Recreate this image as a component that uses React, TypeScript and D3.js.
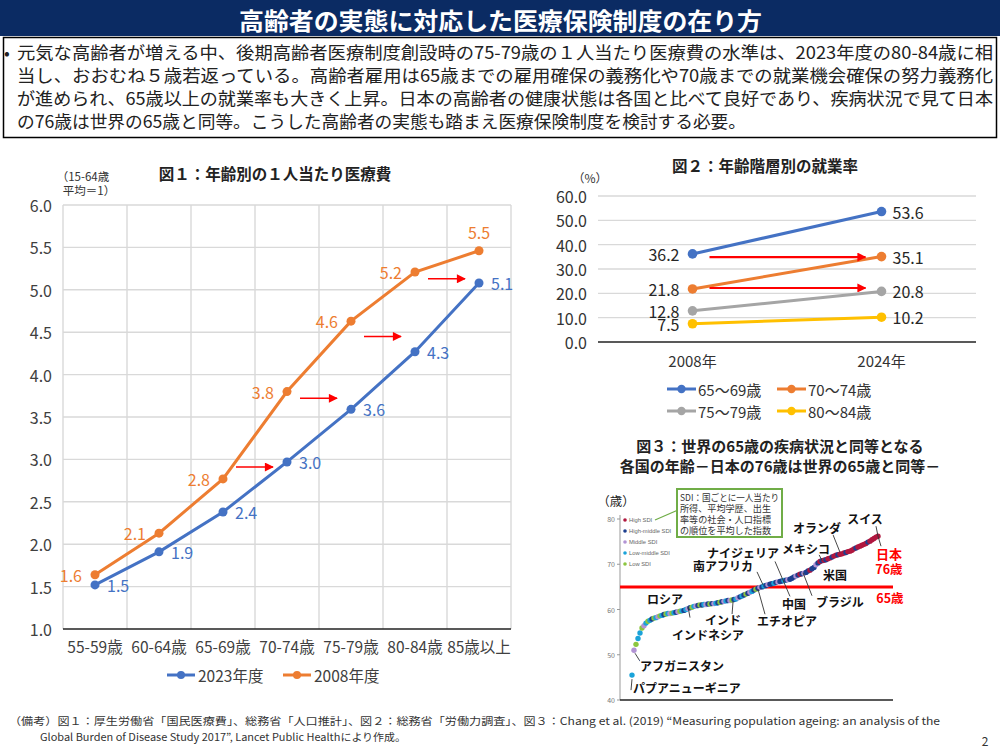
import React from 'react';
import * as d3 from 'd3';

const JP = '"Noto Sans CJK JP", "Noto Sans", sans-serif';
const BLUE = '#4472c4';
const ORANGE = '#ed7d31';
const GRAY = '#a5a5a5';
const YELLOW = '#ffc000';
const RED = '#ff0000';

// ---- page text ----
const pageTitle = '高齢者の実態に対応した医療保険制度の在り方';
const summaryLines = [
  '元気な高齢者が増える中、後期高齢者医療制度創設時の75-79歳の１人当たり医療費の水準は、2023年度の80-84歳に相',
  '当し、おおむね５歳若返っている。高齢者雇用は65歳までの雇用確保の義務化や70歳までの就業機会確保の努力義務化',
  'が進められ、65歳以上の就業率も大きく上昇。日本の高齢者の健康状態は各国と比べて良好であり、疾病状況で見て日本',
  'の76歳は世界の65歳と同等。こうした高齢者の実態も踏まえ医療保険制度を検討する必要。',
];
const noteLines = [
  '（備考）図１：厚生労働省「国民医療費」、総務省「人口推計」、図２：総務省「労働力調査」、図３：Chang et al. (2019) “Measuring population ageing: an analysis of the',
  'Global Burden of Disease Study 2017”, Lancet Public Healthにより作成。',
];

// ---- 図1 ----
const ageGroups = ['55-59歳', '60-64歳', '65-69歳', '70-74歳', '75-79歳', '80-84歳', '85歳以上'];
const cost2023 = [1.52, 1.91, 2.38, 2.97, 3.59, 4.27, 5.08];
const cost2008 = [1.64, 2.13, 2.77, 3.8, 4.63, 5.21, 5.46];
const costTicks = [1.0, 1.5, 2.0, 2.5, 3.0, 3.5, 4.0, 4.5, 5.0, 5.5, 6.0];
const costShiftFrom = [2, 3, 4, 5];
const costShiftLevel = [2.91, 3.72, 4.45, 5.13];

// ---- 図2 ----
const years = ['2008年', '2024年'];
const empGroups = ['65～69歳', '70～74歳', '75～79歳', '80～84歳'];
const emp6569 = [36.2, 53.6];
const emp7074 = [21.8, 35.1];
const emp7579 = [12.8, 20.8];
const emp8084 = [7.5, 10.2];
const empTicks = [0, 10, 20, 30, 40, 50, 60];
const empShiftLevel = [34.9, 22.2];

// ---- 図3 ----
const worldAges = [
  45.5, 51.0, 52.3, 53.6, 54.8, 55.9, 56.4, 57.0, 57.4, 57.6,
  57.9, 58.1, 58.2, 58.4, 58.6, 58.7, 58.9, 59.0, 59.1, 59.1,
  59.2, 59.3, 59.4, 59.5, 59.6, 59.7, 59.8, 60.0, 60.2, 60.4,
  60.5, 60.7, 60.8, 60.9, 61.0, 61.0, 61.1, 61.1, 61.2, 61.2,
  61.3, 61.3, 61.4, 61.5, 61.6, 61.7, 61.8, 61.9, 62.0, 62.0,
  62.1, 62.2, 62.3, 62.6, 62.8, 63.0, 63.2, 63.4, 63.6, 63.8,
  64.0, 64.3, 64.5, 64.7, 64.9, 65.0, 65.2, 65.3, 65.5, 65.6,
  65.7, 65.8, 66.0, 66.1, 66.2, 66.3, 66.4, 66.5, 66.6, 66.7,
  66.9, 67.2, 67.4, 67.6, 67.8, 67.9, 68.0, 68.2, 68.5, 68.7,
  69.0, 69.3, 69.9, 70.3, 70.6, 70.8, 70.9, 71.0, 71.2, 71.4,
  71.6, 71.8, 72.0, 72.1, 72.2, 72.3, 72.5, 72.6, 72.8, 72.9,
  73.1, 73.4, 73.6, 73.8, 74.0, 74.2, 74.4, 74.6, 74.9, 75.1,
  75.4, 75.7, 76.0, 76.2,
];
// H=High, h=High-middle, M=Middle, l=Low-middle, L=Low
const worldSdi = (
  'lM' + 'LllLMlLlh' + 'LlMLlhLlML' + 'lhMLlhlMhL' + 'lMhLhlMhLh' + 'MlhLhMlhML' +
  'hlMhlhLhMl' + 'hLhMhlhMhh' + 'lhMhhlhMhh' + 'hMhHhMhhHh' + 'hMhHhHhHHh' +
  'HHhHHHhHHH' + 'HhHHHHHhHHHHH'
).split('');
const sdiCodes = ['H', 'h', 'M', 'l', 'L'];
const sdiNames = ['High SDI', 'High-middle SDI', 'Middle SDI', 'Low-middle SDI', 'Low SDI'];
const sdiColors = ['#b0173f', '#1d3f8e', '#b293d4', '#1aa3d9', '#8cc63f'];
const worldTicks = [40, 50, 60, 70, 80];
const sdiNote = ['SDI：国ごとに一人当たり', '所得、平均学歴、出生', '率等の社会・人口指標', 'の順位を平均した指数'];
// label offset (dx,dy) from the dot, optional leader [x1,y1,x2,y2] offsets
const countryNotes = [
  { name: 'パプアニューギニア', idx: 0, dx: 55, dy: 12, leader: [0, 4, -1, 15] },
  { name: 'アフガニスタン', idx: 1, dx: 48, dy: 15, leader: [1, 3, 6, 11] },
  { name: 'ロシア', idx: 16, dx: 1, dy: -16 },
  { name: 'インドネシア', idx: 28, dx: 20, dy: 26, leader: [0, -2, 2, 9] },
  { name: 'インド', idx: 50, dx: -9, dy: 20, leader: [1, 2, 0, 15] },
  { name: 'エチオピア', idx: 63, dx: 29, dy: 32, leader: [0, 1, 7, 26] },
  { name: '南アフリカ', idx: 65, dx: -39, dy: -21, leader: [-5, -15, 1, -2] },
  { name: 'ナイジェリア', idx: 72, dx: -33, dy: -30 },
  { name: '中国', idx: 74, dx: 14, dy: 22, leader: [-5, -20, 10, 15] },
  { name: 'ブラジル', idx: 85, dx: 38, dy: 28, leader: [1, -1, 10, 22] },
  { name: '米国', idx: 92, dx: 19, dy: 10 },
  { name: 'メキシコ', idx: 95, dx: -16, dy: -12, leader: [-3, -6, 0, 0] },
  { name: 'オランダ', idx: 104, dx: -23, dy: -27, leader: [-8, -22, 0, -2] },
  { name: 'スイス', idx: 123, dx: -13, dy: -18, leader: [-2, -10, 0, 0] },
];

function Header() {
  return (
    <g>
      <rect x={0} y={0} width={1000} height={36} fill="#0b2b63" />
      <text x={239} y={19} fill="#fff" fontSize={24} fontWeight="bold" dominantBaseline="central"
        textLength={523} lengthAdjust="spacingAndGlyphs">{pageTitle}</text>
      <rect x={3.5} y={37.5} width={993} height={100} fill="none" stroke="#000" strokeWidth={1.5} />
      <text x={4} y={51} fontSize={17} dominantBaseline="central" fill="#222">•</text>
      {summaryLines.map((s, i) => (
        <text key={i} x={17} y={51 + i * 23} fontSize={17.5} fill="#222" dominantBaseline="central"
          textLength={i < 3 ? 976 : 729} lengthAdjust="spacingAndGlyphs">{s}</text>
      ))}
    </g>
  );
}

function Figure1() {
  const x = d3.scaleBand<string>().domain(ageGroups).range([63, 511]);
  const y = d3.scaleLinear().domain([1, 6]).range([629, 205]);
  const cx = (i: number) => (x(ageGroups[i]) as number) + x.bandwidth() / 2;
  const line = d3.line<number>().x((_, i) => cx(i)).y(d => y(d));
  const fmt = d3.format('.1f');
  return (
    <g>
      <text x={275} y={173} textAnchor="middle" dominantBaseline="central" fontSize={15.5} fontWeight="bold" fill="#222">図１：年齢別の１人当たり医療費</text>
      <text x={83} y={176} textAnchor="middle" dominantBaseline="central" fontSize={11.5} fill="#333">（15-64歳</text>
      <text x={89} y={190} textAnchor="middle" dominantBaseline="central" fontSize={11.5} fill="#333">平均＝1）</text>
      {costTicks.slice(1).map(t => (
        <line key={t} x1={63} x2={511} y1={y(t)} y2={y(t)} stroke="#d9d9d9" strokeWidth={1.4} />
      ))}
      {ageGroups.map(g => (
        <line key={g} x1={(x(g) as number)} x2={(x(g) as number)} y1={205} y2={629} stroke="#d9d9d9" strokeWidth={1.4} />
      ))}
      <line x1={511} x2={511} y1={205} y2={629} stroke="#d9d9d9" strokeWidth={1.4} />
      <line x1={63} x2={511} y1={629} y2={629} stroke="#222" strokeWidth={1.4} />
      {costTicks.map(t => (
        <text key={t} x={52} y={y(t)} textAnchor="end" dominantBaseline="central" fontSize={16} fill="#404040">{fmt(t)}</text>
      ))}
      {ageGroups.map((g, i) => (
        <text key={g} x={cx(i)} y={646} textAnchor="middle" dominantBaseline="central" fontSize={15.5} fill="#404040">{g}</text>
      ))}
      {costShiftFrom.map((f, i) => (
        <line key={i} x1={cx(f) + 13} x2={cx(f) + 50} y1={y(costShiftLevel[i])} y2={y(costShiftLevel[i])}
          stroke={RED} strokeWidth={1.5} markerEnd="url(#arrowRed1)" />
      ))}
      <path d={line(cost2008) as string} fill="none" stroke={ORANGE} strokeWidth={3} />
      <path d={line(cost2023) as string} fill="none" stroke={BLUE} strokeWidth={3} />
      {cost2008.map((v, i) => (
        <g key={'o' + i}>
          <circle cx={cx(i)} cy={y(v)} r={4.5} fill={ORANGE} />
          {i < cost2008.length - 1 ? (
            <text x={cx(i) - 13} y={y(v)} textAnchor="end" dominantBaseline="central" fontSize={16} fill={ORANGE}>{fmt(v)}</text>
          ) : (
            <text x={cx(i)} y={y(v) - 19} textAnchor="middle" dominantBaseline="central" fontSize={16} fill={ORANGE}>{fmt(v)}</text>
          )}
        </g>
      ))}
      {cost2023.map((v, i) => (
        <g key={'b' + i}>
          <circle cx={cx(i)} cy={y(v)} r={4.5} fill={BLUE} />
          <text x={cx(i) + 12} y={y(v)} dominantBaseline="central" fontSize={16} fill={BLUE}>{fmt(v)}</text>
        </g>
      ))}
      {[{ n: '2023年度', c: BLUE, x0: 167 }, { n: '2008年度', c: ORANGE, x0: 283 }].map(l => (
        <g key={l.n}>
          <line x1={l.x0} x2={l.x0 + 28} y1={675} y2={675} stroke={l.c} strokeWidth={3} />
          <circle cx={l.x0 + 14} cy={675} r={4} fill={l.c} />
          <text x={l.x0 + 31} y={675} dominantBaseline="central" fontSize={15.5} fill="#404040">{l.n}</text>
        </g>
      ))}
    </g>
  );
}

function Figure2() {
  const x = d3.scaleBand<string>().domain(years).range([598, 976]);
  const y = d3.scaleLinear().domain([0, 60]).range([342, 196]);
  const cx = (i: number) => (x(years[i]) as number) + x.bandwidth() / 2;
  const line = d3.line<number>().x((_, i) => cx(i)).y(d => y(d));
  const fmt = d3.format('.1f');
  const series = [emp6569, emp7074, emp7579, emp8084];
  const colors = [BLUE, ORANGE, GRAY, YELLOW];
  return (
    <g>
      <text x={765} y={165} textAnchor="middle" dominantBaseline="central" fontSize={15.5} fontWeight="bold" fill="#222">図２：年齢階層別の就業率</text>
      <text x={590} y={177} textAnchor="middle" dominantBaseline="central" fontSize={12} fill="#333">（%）</text>
      {empTicks.slice(1).map(t => (
        <line key={t} x1={598} x2={976} y1={y(t)} y2={y(t)} stroke="#d9d9d9" strokeWidth={1.3} />
      ))}
      <line x1={598} x2={976} y1={y(0)} y2={y(0)} stroke="#222" strokeWidth={1.4} />
      {empTicks.map(t => (
        <text key={t} x={587} y={y(t)} textAnchor="end" dominantBaseline="central" fontSize={16} fill="#333">{fmt(t)}</text>
      ))}
      {years.map((yr, i) => (
        <text key={yr} x={cx(i)} y={360} textAnchor="middle" dominantBaseline="central" fontSize={15} fill="#333">{yr}</text>
      ))}
      {series.map((s, k) => (
        <path key={k} d={line(s) as string} fill="none" stroke={colors[k]} strokeWidth={3} />
      ))}
      {series.map((s, k) => s.map((v, i) => (
        <g key={k + '-' + i}>
          <circle cx={cx(i)} cy={y(v)} r={4.8} fill={colors[k]} />
          <text x={i === 0 ? cx(i) - 13 : cx(i) + 11} y={y(v)} textAnchor={i === 0 ? 'end' : 'start'}
            dominantBaseline="central" fontSize={16} fill="#262626">{fmt(v)}</text>
        </g>
      )))}
      {empShiftLevel.map((v, i) => (
        <line key={i} x1={cx(0) + 17} x2={cx(1) - 16} y1={y(v)} y2={y(v)} stroke={RED} strokeWidth={2.2} markerEnd="url(#arrowRed2)" />
      ))}
      {empGroups.map((g, k) => {
        const lx = k % 2 === 0 ? 667 : 777;
        const ly = k < 2 ? 389 : 411;
        return (
          <g key={g}>
            <line x1={lx} x2={lx + 29} y1={ly} y2={ly} stroke={colors[k]} strokeWidth={3} />
            <circle cx={lx + 14.5} cy={ly} r={4.2} fill={colors[k]} />
            <text x={lx + 31} y={ly} dominantBaseline="central" fontSize={15} fill="#333">{g}</text>
          </g>
        );
      })}
    </g>
  );
}

function Figure3() {
  const x = d3.scaleLinear().domain([0, worldAges.length - 1]).range([632, 878]);
  const y = d3.scaleLinear().domain([40, 80]).range([700, 519]);
  const color = (c: string) => sdiColors[sdiCodes.indexOf(c)];
  return (
    <g>
      <text x={780} y={445} textAnchor="middle" dominantBaseline="central" fontSize={15} fontWeight="bold" fill="#222">図３：世界の65歳の疾病状況と同等となる</text>
      <text x={780} y={465} textAnchor="middle" dominantBaseline="central" fontSize={15} fontWeight="bold" fill="#222">各国の年齢－日本の76歳は世界の65歳と同等－</text>
      <text x={616} y={500} textAnchor="middle" dominantBaseline="central" fontSize={12.5} fill="#222">（歳）</text>
      <line x1={620} x2={620} y1={515} y2={700} stroke="#999" strokeWidth={1} />
      <line x1={620} x2={893} y1={700} y2={700} stroke="#222" strokeWidth={1.3} />
      {worldTicks.map(t => (
        <g key={t}>
          <line x1={617} x2={620} y1={y(t)} y2={y(t)} stroke="#999" />
          <text x={615} y={y(t)} textAnchor="end" dominantBaseline="central" fontSize={7} fill="#777">{t}</text>
        </g>
      ))}
      <line x1={655} y1={520} x2={678} y2={510} stroke="#70ad47" strokeWidth={1.3} />
      <rect x={677} y={489} width={105} height={48} fill="#fff" stroke="#70ad47" strokeWidth={2} />
      {sdiNote.map((s, i) => (
        <text key={i} x={680} y={497 + i * 11} dominantBaseline="central" fontSize={9.3} fill="#333"
          textLength={i === 0 ? 99 : 91} lengthAdjust="spacingAndGlyphs">{s}</text>
      ))}
      {sdiNames.map((n, i) => (
        <g key={n}>
          <circle cx={625} cy={520 + i * 11} r={1.8} fill={sdiColors[i]} />
          <text x={629} y={520 + i * 11} dominantBaseline="central" fontSize={5.8} fill="#666"
            fontFamily='"Liberation Sans Narrow", "Liberation Sans", sans-serif'>{n}</text>
        </g>
      ))}
      <line x1={620} x2={893} y1={y(65)} y2={y(65)} stroke={RED} strokeWidth={3} />
      {worldAges.map((v, i) => (
        <circle key={i} cx={x(i)} cy={y(v)} r={2.7} fill={color(worldSdi[i])} />
      ))}
      {countryNotes.map(c => {
        const px = x(c.idx);
        const py = y(worldAges[c.idx]);
        return (
          <g key={c.name}>
            {c.leader && (
              <line x1={px + c.leader[0]} y1={py + c.leader[1]} x2={px + c.leader[2]} y2={py + c.leader[3]} stroke="#333" strokeWidth={0.9} />
            )}
            <text x={px + c.dx} y={py + c.dy} textAnchor="middle" dominantBaseline="central" fontSize={12}
              fontWeight="bold" fill="#111" stroke="#fff" strokeWidth={2.5} paintOrder="stroke">{c.name}</text>
          </g>
        );
      })}
      <line x1={x(123)} y1={y(worldAges[123])} x2={x(123) + 3} y2={y(worldAges[123]) + 10} stroke="#333" strokeWidth={0.9} />
      <text x={889} y={553} textAnchor="middle" dominantBaseline="central" fontSize={13} fontWeight="bold" fill={RED}>日本</text>
      <text x={889} y={568} textAnchor="middle" dominantBaseline="central" fontSize={12.5} fontWeight="bold" fill={RED}>76歳</text>
      <text x={890} y={597} textAnchor="middle" dominantBaseline="central" fontSize={12.5} fontWeight="bold" fill={RED}>65歳</text>
    </g>
  );
}

function Notes() {
  return (
    <g>
      <text x={9} y={720} dominantBaseline="central" fontSize={10.5} fill="#333" textLength={931} lengthAdjust="spacingAndGlyphs">{noteLines[0]}</text>
      <text x={40} y={736} dominantBaseline="central" fontSize={10.5} fill="#333" textLength={366} lengthAdjust="spacingAndGlyphs">{noteLines[1]}</text>
      <text x={985} y={740} textAnchor="middle" dominantBaseline="central" fontSize={12} fill="#333">2</text>
    </g>
  );
}

export default function App() {
  return (
    <svg width={1000} height={750} style={{ position: 'absolute', left: 0, top: 0, background: '#fff' }} fontFamily={JP}>
      <defs>
        <marker id="arrowRed1" viewBox="0 0 10 10" refX={9} refY={5} markerWidth={10} markerHeight={9} markerUnits="userSpaceOnUse" orient="auto">
          <path d="M0,0 L10,5 L0,10 z" fill={RED} />
        </marker>
        <marker id="arrowRed2" viewBox="0 0 10 10" refX={9} refY={5} markerWidth={9} markerHeight={9} markerUnits="userSpaceOnUse" orient="auto">
          <path d="M0,0 L10,5 L0,10 z" fill={RED} />
        </marker>
      </defs>
      <Header />
      <Figure1 />
      <Figure2 />
      <Figure3 />
      <Notes />
    </svg>
  );
}
